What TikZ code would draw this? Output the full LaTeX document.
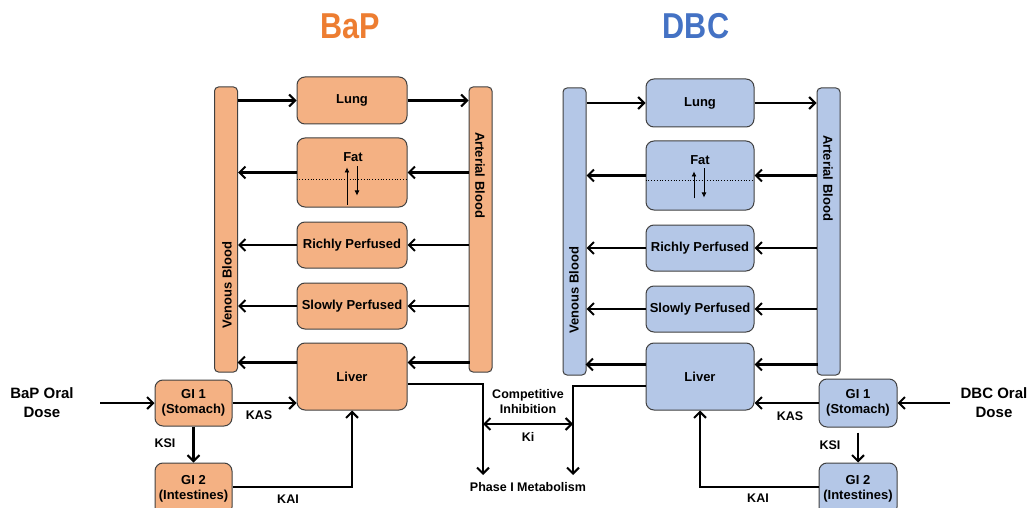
\documentclass[tikz,border=0pt]{standalone}
\usepackage{fontspec}
\setmainfont{Liberation Sans}
\usepackage{xcolor}
\usepackage{tikz}
\usetikzlibrary{arrows.meta,calc}

\definecolor{bapfill}{HTML}{F4B183}
\definecolor{dbcfill}{HTML}{B4C7E7}
\definecolor{baptitle}{HTML}{ED7D31}
\definecolor{dbctitle}{HTML}{4472C4}
\definecolor{edge}{HTML}{404040}

\begin{document}
\begin{tikzpicture}[x=1pt,y=-1pt,
    txt/.style={font=\fontsize{13}{15}\selectfont\bfseries},
    organ/.style={draw=edge, line width=1pt, rounded corners=8pt, txt, align=center, inner sep=0pt},
    bloodbar/.style={draw=edge, line width=1pt, rounded corners=4pt, inner sep=0pt, minimum width=23pt},
    flow/.style={line width=2.5pt, -{Straight Barb[length=6pt,width=12pt,line width=2pt]}},
    biflow/.style={line width=2.5pt, {Straight Barb[length=6pt,width=12pt,line width=2pt]}-{Straight Barb[length=6pt,width=12pt,line width=2pt]}},
    fatflow/.style={line width=0.7pt, -{Latex[length=5pt,width=5pt]}},
    ratelbl/.style={font=\fontsize{12.5}{14}\selectfont\bfseries},
    dose/.style={font=\fontsize{15}{19}\selectfont\bfseries, align=center}]

\useasboundingbox (0,0) rectangle (1034,508);

% Titles
\node[font=\fontsize{36}{40}\selectfont\bfseries, text=baptitle] (bapTitle) at (350,26) {\scalebox{0.85}[1]{BaP}};
\node[font=\fontsize{36}{40}\selectfont\bfseries, text=dbctitle] (dbcTitle) at (696,26) {\scalebox{0.85}[1]{DBC}};

% ---------------- BaP (left) ----------------
\begin{scope}
    % Blood pools
    \node[bloodbar, fill=bapfill, minimum height=285pt] (lVen) at (226,229.5) {};
    \node[bloodbar, fill=bapfill, minimum height=285pt] (lArt) at (480.5,229.5) {};
    \node[txt, rotate=90] (lVenLbl) at (227,285) {Venous Blood};
    \node[txt, rotate=-90] (lArtLbl) at (480,175) {Arterial Blood};

    % Compartments
    \node[organ, fill=bapfill, minimum width=110pt, minimum height=47pt] (lLung) at (352,100.5) {Lung};
    \node[organ, fill=bapfill, minimum width=110pt, minimum height=69pt] (lFat) at (352,172.5) {};
    \node[organ, fill=bapfill, minimum width=110pt, minimum height=46pt] (lRich) at (352,245) {Richly Perfused};
    \node[organ, fill=bapfill, minimum width=110pt, minimum height=46pt] (lSlow) at (352,306) {Slowly Perfused};
    \node[organ, fill=bapfill, minimum width=110pt, minimum height=67pt] (lLiv) at (352,376.5) {Liver};
    \node[organ, fill=bapfill, minimum width=77pt, minimum height=46pt] (lGI1) at (193.5,403) {GI 1\\(Stomach)};
    \node[organ, fill=bapfill, minimum width=77pt, minimum height=52pt] (lGI2) at (193.5,489) {GI 2\\(Intestines)};

    % Fat: split line and exchange arrows
    \node[txt] (lFatLbl) at (353,157) {Fat};
    \draw[dotted, line width=0.8pt] ($(lFat.west)+(0,6.5)$) -- ($(lFat.east)+(0,6.5)$);
    \draw[fatflow] ($(lFat.center)+(-5,32)$) -- ($(lFat.center)+(-5,-5)$);
    \draw[fatflow] ($(lFat.center)+(5,-6)$) -- ($(lFat.center)+(5,23)$);

    % Circulation
    \draw[flow] (lVen.east |- lLung.west) -- (lLung.west);
    \draw[flow] (lLung.east) -- (lLung.east -| lArt.west);
    \foreach \org in {lFat,lRich,lSlow} {
        \draw[flow] (lArt.west |- \org.east) -- (\org.east);
        \draw[flow] (\org.west) -- (lVen.east |- \org.west);
    }
    \draw[flow] ($(lLiv.north east)+(62,20)$) -- ($(lLiv.north east)+(0,20)$);
    \draw[flow] ($(lLiv.north west)+(0,20)$) -- ($(lLiv.north west)+(-59,20)$);

    % Oral uptake
    \node[dose] (lDose) at (42,403) {BaP Oral\\Dose};
    \coordinate (lDoseEnd) at (100,403);
    \draw[flow] (lDoseEnd) -- (lGI1.west);
    \draw[flow] (lGI1.east) -- (lGI1.east -| lLiv.west);
    \draw[flow] (lGI1.south) -- (lGI2.north);
    \draw[flow] ($(lGI2.east)+(0,-2)$) -| (lLiv.south);
    \node[ratelbl] (lKAS) at (259,415) {KAS};
    \node[ratelbl] (lKSI) at (165,443) {KSI};
    \node[ratelbl] (lKAI) at (288,499) {KAI};

    % Metabolic clearance
    \coordinate (lMet) at (483,475);
    \draw[flow] ($(lLiv.east)+(0,7.5)$) -| (lMet);
\end{scope}

% ---------------- DBC (right) ----------------
\begin{scope}
    % Blood pools
    \node[bloodbar, fill=dbcfill, minimum height=287pt] (rVen) at (574.5,231.5) {};
    \node[bloodbar, fill=dbcfill, minimum height=287pt] (rArt) at (828.5,231.5) {};
    \node[txt, rotate=90] (rVenLbl) at (574,290) {Venous Blood};
    \node[txt, rotate=-90] (rArtLbl) at (828,178) {Arterial Blood};

    % Compartments
    \node[organ, fill=dbcfill, minimum width=108pt, minimum height=48pt] (rLung) at (700,103) {Lung};
    \node[organ, fill=dbcfill, minimum width=108pt, minimum height=69pt] (rFat) at (700,175.5) {};
    \node[organ, fill=dbcfill, minimum width=108pt, minimum height=46pt] (rRich) at (700,248) {Richly Perfused};
    \node[organ, fill=dbcfill, minimum width=108pt, minimum height=46pt] (rSlow) at (700,309) {Slowly Perfused};
    \node[organ, fill=dbcfill, minimum width=108pt, minimum height=67pt] (rLiv) at (700,376.5) {Liver};
    \node[organ, fill=dbcfill, minimum width=78pt, minimum height=48pt] (rGI1) at (858,403) {GI 1\\(Stomach)};
    \node[organ, fill=dbcfill, minimum width=78pt, minimum height=52pt] (rGI2) at (858,489) {GI 2\\(Intestines)};

    % Fat: split line and exchange arrows
    \node[txt] (rFatLbl) at (700,160) {Fat};
    \draw[dotted, line width=0.8pt] ($(rFat.west)+(0,5)$) -- ($(rFat.east)+(0,5)$);
    \draw[fatflow] ($(rFat.center)+(-6,23)$) -- ($(rFat.center)+(-6,-4)$);
    \draw[fatflow] ($(rFat.center)+(4,-7)$) -- ($(rFat.center)+(4,22)$);

    % Circulation
    \draw[flow] (rVen.east |- rLung.west) -- (rLung.west);
    \draw[flow] (rLung.east) -- (rLung.east -| rArt.west);
    \foreach \org in {rFat,rRich,rSlow} {
        \draw[flow] (rArt.west |- \org.east) -- (\org.east);
        \draw[flow] (\org.west) -- (rVen.east |- \org.west);
    }
    \draw[flow] ($(rLiv.north east)+(63,22)$) -- ($(rLiv.north east)+(0,22)$);
    \draw[flow] ($(rLiv.north west)+(0,22)$) -- ($(rLiv.north west)+(-60,22)$);

    % Oral uptake
    \node[dose] (rDose) at (994,403) {DBC Oral\\Dose};
    \coordinate (rDoseEnd) at (950,403);
    \draw[flow] (rDoseEnd) -- (rGI1.east);
    \draw[flow] (rGI1.west) -- (rGI1.west -| rLiv.east);
    \draw[flow] ($(rGI1.south)+(0,5)$) -- (rGI2.north);
    \draw[flow] ($(rGI2.west)+(0,-2)$) -| (rLiv.south);
    \node[ratelbl] (rKAS) at (790,416) {KAS};
    \node[ratelbl] (rKSI) at (830,445) {KSI};
    \node[ratelbl] (rKAI) at (758,498) {KAI};

    % Metabolic clearance
    \coordinate (rMet) at (573,475);
    \draw[flow] ($(rLiv.west)+(0,9.5)$) -| (rMet);
\end{scope}

% Shared Phase I pathway
\node[txt, align=center, font=\fontsize{12.5}{15}\selectfont\bfseries] (inhib) at (528,402) {Competitive\\Inhibition};
\draw[biflow] (lMet |- 0,424) -- (rMet |- 0,424);
\node[ratelbl] (ki) at (528,437) {Ki};
\node[txt, font=\fontsize{12.5}{15}\selectfont\bfseries] (phase) at (528,487) {Phase I Metabolism};

\end{tikzpicture}
\end{document}
